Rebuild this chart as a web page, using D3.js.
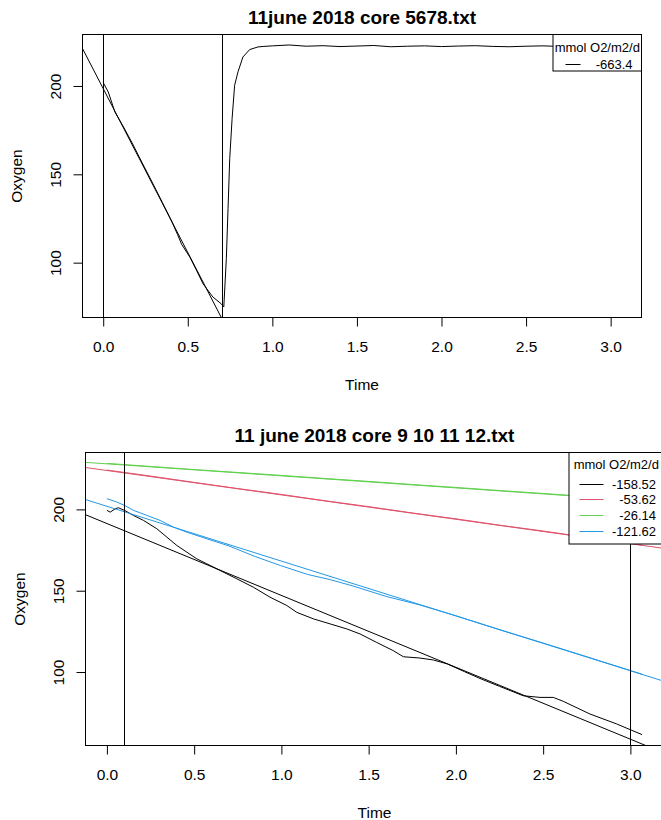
<!DOCTYPE html>
<html>
<head>
<meta charset="utf-8">
<script src="https://cdn.jsdelivr.net/npm/d3@7/dist/d3.min.js"></script>
<style>
    body { margin: 0; background: #ffffff; }
    svg { display: block; font-family: "Liberation Sans", Arial, sans-serif; }
</style>
</head>
<body>
<div id="chart"></div>
<script>
'use strict';

// axis ticks, shared by both panels
const xTicks = [0, 0.5, 1, 1.5, 2, 2.5, 3];
const yTicks = [100, 150, 200];

// top panel: core 5678 (drawdown, then probe back in air)
const core5678Time = [0, 0.030, 0.069, 0.120, 0.168, 0.230, 0.295, 0.350, 0.404, 0.440, 0.463, 0.512, 0.550, 0.590,
    0.649, 0.697, 0.713, 0.728, 0.738, 0.748, 0.762, 0.777, 0.797, 0.826, 0.866, 0.915, 0.95, 1.0, 1.1, 1.2, 1.3,
    1.4, 1.5, 1.6, 1.7, 1.8, 1.9, 2.0, 2.1, 2.2, 2.3, 2.4, 2.5, 2.6, 2.7, 2.8, 2.9, 3.0, 3.06];
const core5678Oxygen = [201.9, 196.6, 185.3, 176.8, 168.3, 156.6, 144.5, 134.0, 123.6, 115.8, 110.5, 103.2, 96.0, 88.1,
    80.5, 76.8, 74.9, 102.3, 130.6, 158.9, 181.6, 200.4, 208.0, 216.4, 220.6, 222.1, 222.4, 222.7, 223.2, 222.5, 222.8,
    222.3, 222.6, 222.9, 222.2, 222.5, 222.7, 222.3, 222.6, 222.8, 222.4, 222.2, 222.5, 222.7, 222.4, 222.6, 222.3,
    222.6, 222.7];
const core5678Intercept = [198.5];
const core5678Slope = [-185.5];
const core5678Rate = ['-663.4'];
const core5678Marks = [0, 0.7];

// bottom panel: cores 9, 10, 11, 12
const core9Time = [0, 0.019, 0.048, 0.066, 0.1, 0.152, 0.21, 0.286, 0.344, 0.401, 0.458, 0.515, 0.573, 0.649, 0.745,
    0.84, 0.935, 1.031, 1.088, 1.183, 1.279, 1.375, 1.451, 1.546, 1.642, 1.699, 1.794, 1.871, 1.95, 2.05, 2.15, 2.25,
    2.386, 2.482, 2.558, 2.615, 2.768, 2.921, 3.067];
const core9Oxygen = [199.4, 198.3, 200.4, 201.0, 199.4, 196.3, 193.2, 188.1, 182.9, 177.8, 173.7, 169.6, 166.5, 162.4,
    157.3, 152.1, 146.0, 140.9, 136.7, 132.7, 129.6, 126.5, 123.4, 118.2, 113.1, 109.4, 108.6, 107.4, 105.0, 100.2,
    95.5, 91.2, 85.4, 84.4, 84.4, 82.0, 74.2, 68.1, 61.5];

const core10Time = [0, 0.25, 0.5, 0.75, 1.0, 1.25, 1.5, 1.75, 2.0, 2.25, 2.5, 2.75, 3.0, 3.067];
const core10Oxygen = [224.2, 220.5, 216.6, 212.8, 209.2, 205.3, 201.7, 197.8, 194.2, 190.3, 186.7, 182.8, 179.1, 178.0];

const core11Time = [0, 0.25, 0.5, 0.75, 1.0, 1.25, 1.5, 1.75, 2.0, 2.25, 2.5, 2.75, 3.0, 3.067];
const core11Oxygen = [228.3, 226.4, 224.5, 222.7, 220.9, 219.0, 217.2, 215.3, 213.5, 211.6, 209.8, 207.9, 206.1, 205.5];

const core12Time = [0, 0.057, 0.1, 0.152, 0.229, 0.305, 0.381, 0.458, 0.573, 0.7, 0.85, 0.994, 1.15, 1.28, 1.41, 1.6,
    1.795, 2.0, 2.25, 2.5, 2.75, 3.0, 3.067];
const core12Oxygen = [206.6, 204.5, 202.5, 199.4, 196.3, 193.2, 189.1, 186.0, 181.9, 177.5, 171.0, 165.5, 160.0, 156.8,
    152.9, 146.5, 141.2, 134.6, 126.0, 117.8, 109.4, 100.9, 98.6];

const coreIntercepts = [191.3, 223.9, 228.0, 201.9];
const coreSlopes = [-44.2, -15.0, -7.4, -33.7];
const coreRates = ['-158.52', '-53.62', '-26.14', '-121.62'];
const coreMarks = [0.1, 3.0];

// R 4.x default palette
const palette = ['#000000', '#DF536B', '#61D04F', '#2297E6'];

const width = 661,
    height = 820,
    tickLength = 9,
    axisFontSize = 15.5,
    legendFontSize = 13,
    titleFontSize = 19;

const panels = [
    {
        title: '11june 2018 core 5678.txt',
        box: {left: 82.5, right: 641.5, top: 34.5, bottom: 317.5},
        runs: [{time: core5678Time, oxygen: core5678Oxygen}],
        intercepts: core5678Intercept,
        slopes: core5678Slope,
        rates: core5678Rate,
        marks: core5678Marks,
        legend: {width: 88.5, height: 36.5, segStart: 12.5, segEnd: 27.5, textInset: 9, titleY: 17.3, rowY: 29, rowGap: 15.6}
    },
    {
        title: '11 june 2018 core 9 10 11 12.txt',
        box: {left: 85.5, right: 663.5, top: 452.5, bottom: 745.5},
        runs: [
            {time: core9Time, oxygen: core9Oxygen},
            {time: core10Time, oxygen: core10Oxygen},
            {time: core11Time, oxygen: core11Oxygen},
            {time: core12Time, oxygen: core12Oxygen}
        ],
        intercepts: coreIntercepts,
        slopes: coreSlopes,
        rates: coreRates,
        marks: coreMarks,
        legend: {width: 94.5, height: 91.5, segStart: 10.5, segEnd: 34.5, textInset: 7.5, titleY: 16, rowY: 31.3, rowGap: 15.6}
    }
];

const svg = d3.select('#chart')
  .append('svg')
    .attr('width', width)
    .attr('height', height);

/**
 * Pads an extent by 4% on each side, like R's default axis range
 * @param  {Number[]} values all values plotted on that axis
 * @return {Number[]}        padded domain
 */
function paddedDomain(values) {
    let [lo, hi] = d3.extent(values),
        pad = (hi - lo) * 0.04;

    return [lo - pad, hi + pad];
}

/**
 * Draws one panel: box, axes, raw runs, fitted lines, markers and legend
 * @param  {Object} panel panel config
 * @param  {Number} index panel position
 */
function drawPanel(panel, index) {
    let box = panel.box,
        clipId = `clip-${index}`,
        x = d3.scaleLinear()
            .domain(paddedDomain(panel.runs.flatMap(d => d.time)))
            .range([box.left, box.right]),
        y = d3.scaleLinear()
            .domain(paddedDomain(panel.runs.flatMap(d => d.oxygen)))
            .range([box.bottom, box.top]),
        g = svg.append('g').classed('panel', true);

    g.append('clipPath')
        .attr('id', clipId)
      .append('rect')
        .attr('x', box.left)
        .attr('y', box.top)
        .attr('width', box.right - box.left)
        .attr('height', box.bottom - box.top);

    let plot = g.append('g').attr('clip-path', `url(#${clipId})`),
        line = d3.line()
            .x(d => x(d[0]))
            .y(d => y(d[1]));

    // raw oxygen traces
    plot.selectAll('.run')
        .data(panel.runs.map((d, i) => ({...d, color: palette[i]})))
      .enter().append('path')
        .classed('run', true)
        .attr('d', d => line(d.time.map((t, i) => [t, d.oxygen[i]])))
        .attr('fill', 'none')
        .attr('stroke', d => d.color)
        .attr('stroke-width', 1);

    // fitted lines, drawn across the whole box like abline()
    let [x0, x1] = x.domain(),
        fits = panel.intercepts.map((a, i) => ({a, b: panel.slopes[i], color: palette[i]}));

    plot.selectAll('.fit')
        .data(fits)
      .enter().append('line')
        .classed('fit', true)
        .attr('x1', x(x0))
        .attr('x2', x(x1))
        .attr('y1', d => y(d.a + d.b * x0))
        .attr('y2', d => y(d.a + d.b * x1))
        .attr('stroke', d => d.color)
        .attr('stroke-width', 1);

    // window markers
    plot.selectAll('.mark')
        .data(panel.marks)
      .enter().append('line')
        .classed('mark', true)
        .attr('x1', d => Math.round(x(d)) + 0.5)
        .attr('x2', d => Math.round(x(d)) + 0.5)
        .attr('y1', box.top)
        .attr('y2', box.bottom)
        .attr('stroke', '#000')
        .attr('stroke-width', 1);

    // x axis
    let xAxis = g.append('g')
        .attr('transform', `translate(0,${box.bottom})`)
        .call(d3.axisBottom(x)
            .tickValues(xTicks)
            .tickSize(tickLength)
            .tickPadding(14)
            .tickFormat(d3.format('.1f')));

    xAxis.select('.domain').remove();
    xAxis.selectAll('line').attr('stroke', '#000');
    xAxis.selectAll('text')
        .attr('font-size', axisFontSize)
        .attr('font-family', null)
        .attr('fill', '#000');

    // y axis, labels parallel to the axis
    let yAxis = g.append('g')
        .attr('transform', `translate(${box.left},0)`)
        .call(d3.axisLeft(y)
            .tickValues(yTicks)
            .tickSize(tickLength));

    yAxis.select('.domain').remove();
    yAxis.selectAll('line').attr('stroke', '#000');
    yAxis.selectAll('text')
        .attr('transform', 'rotate(-90)')
        .attr('x', 0)
        .attr('y', -21.5)
        .attr('dy', null)
        .attr('text-anchor', 'middle')
        .attr('font-size', axisFontSize)
        .attr('font-family', null)
        .attr('fill', '#000');

    // box
    g.append('rect')
        .attr('x', box.left)
        .attr('y', box.top)
        .attr('width', box.right - box.left)
        .attr('height', box.bottom - box.top)
        .attr('fill', 'none')
        .attr('stroke', '#000')
        .attr('stroke-width', 1);

    // titles
    g.append('text')
        .attr('x', (box.left + box.right) / 2)
        .attr('y', box.top - 11)
        .attr('text-anchor', 'middle')
        .attr('font-size', titleFontSize)
        .attr('font-weight', 'bold')
        .text(panel.title);

    g.append('text')
        .attr('x', (box.left + box.right) / 2)
        .attr('y', box.bottom + 72)
        .attr('text-anchor', 'middle')
        .attr('font-size', axisFontSize)
        .text('Time');

    g.append('text')
        .attr('transform', `translate(${box.left - 61},${(box.top + box.bottom) / 2}) rotate(-90)`)
        .attr('text-anchor', 'middle')
        .attr('font-size', axisFontSize)
        .text('Oxygen');

    drawLegend(g, panel);
}

/**
 * Draws the top right legend with the rates
 * @param  {D3Selection} g     panel group
 * @param  {Object}      panel panel config
 */
function drawLegend(g, panel) {
    let lg = panel.legend,
        left = panel.box.right - lg.width,
        top = panel.box.top,
        entries = panel.rates.map((rate, i) => ({
            rate,
            color: palette[i],
            y: Math.round(top + lg.rowY + i * lg.rowGap) + 0.5
        })),
        legend = g.append('g').classed('legend', true);

    legend.append('rect')
        .attr('x', left)
        .attr('y', top)
        .attr('width', lg.width)
        .attr('height', lg.height)
        .attr('fill', '#fff')
        .attr('stroke', '#000')
        .attr('stroke-width', 1);

    legend.append('text')
        .attr('x', left + lg.width / 2)
        .attr('y', top + lg.titleY)
        .attr('text-anchor', 'middle')
        .attr('font-size', legendFontSize)
        .text('mmol O2/m2/d');

    legend.selectAll('.key')
        .data(entries)
      .enter().append('line')
        .classed('key', true)
        .attr('x1', left + lg.segStart)
        .attr('x2', left + lg.segEnd)
        .attr('y1', d => d.y)
        .attr('y2', d => d.y)
        .attr('stroke', d => d.color)
        .attr('stroke-width', 1);

    legend.selectAll('.rate')
        .data(entries)
      .enter().append('text')
        .classed('rate', true)
        .attr('x', panel.box.right - lg.textInset)
        .attr('y', d => d.y)
        .attr('dy', '0.36em')
        .attr('text-anchor', 'end')
        .attr('font-size', legendFontSize)
        .text(d => d.rate);
}

panels.forEach(drawPanel);
</script>
</body>
</html>
